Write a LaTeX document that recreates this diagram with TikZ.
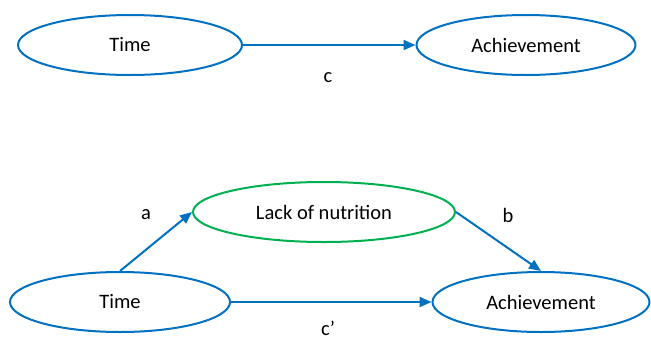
\documentclass[tikz,border=0pt]{standalone}
\usepackage{fontspec}
\setmainfont{Carlito}
\usetikzlibrary{shapes.geometric,arrows.meta}
\definecolor{oblue}{RGB}{0,112,192}
\definecolor{ogreen}{RGB}{0,176,80}
\tikzset{
  var/.style={ellipse,draw=oblue,line width=2pt,inner sep=0pt,minimum width=#1,minimum height=60pt,font=\fontsize{20.5}{24}\selectfont},
  var/.default=222pt,
  link/.style={draw=oblue,line width=2pt,-{Triangle[length=12pt,width=10pt]}},
  lbl/.style={inner sep=0pt,font=\fontsize{20.5}{24}\selectfont}
}
\begin{document}
\begin{tikzpicture}[x=1pt,y=-1pt]
\useasboundingbox (0,0) rectangle (651,341);
\node[var=224pt] (t1) at (130,45) {Time};
\node[var=219pt] (a1) at (526,45) {Achievement};
\draw[link] (t1.east) -- (a1.west);
\node[lbl] (c) at (328,78) {c};
\node[var=262pt,draw=ogreen] (n) at (324,212) {Lack of nutrition};
\node[var=220pt] (t2) at (120,302) {Time};
\node[var=217pt] (a2) at (541,302) {Achievement};
\draw[link] (t2.north) -- (n.west);
\draw[link] (n.east) -- (a2.north);
\draw[link] (t2.east) -- (a2.west);
\node[lbl] (la) at (146,215) {a};
\node[lbl] (lb) at (508,215) {b};
\node[lbl] (lc) at (328,328) {c’};
\end{tikzpicture}
\end{document}
